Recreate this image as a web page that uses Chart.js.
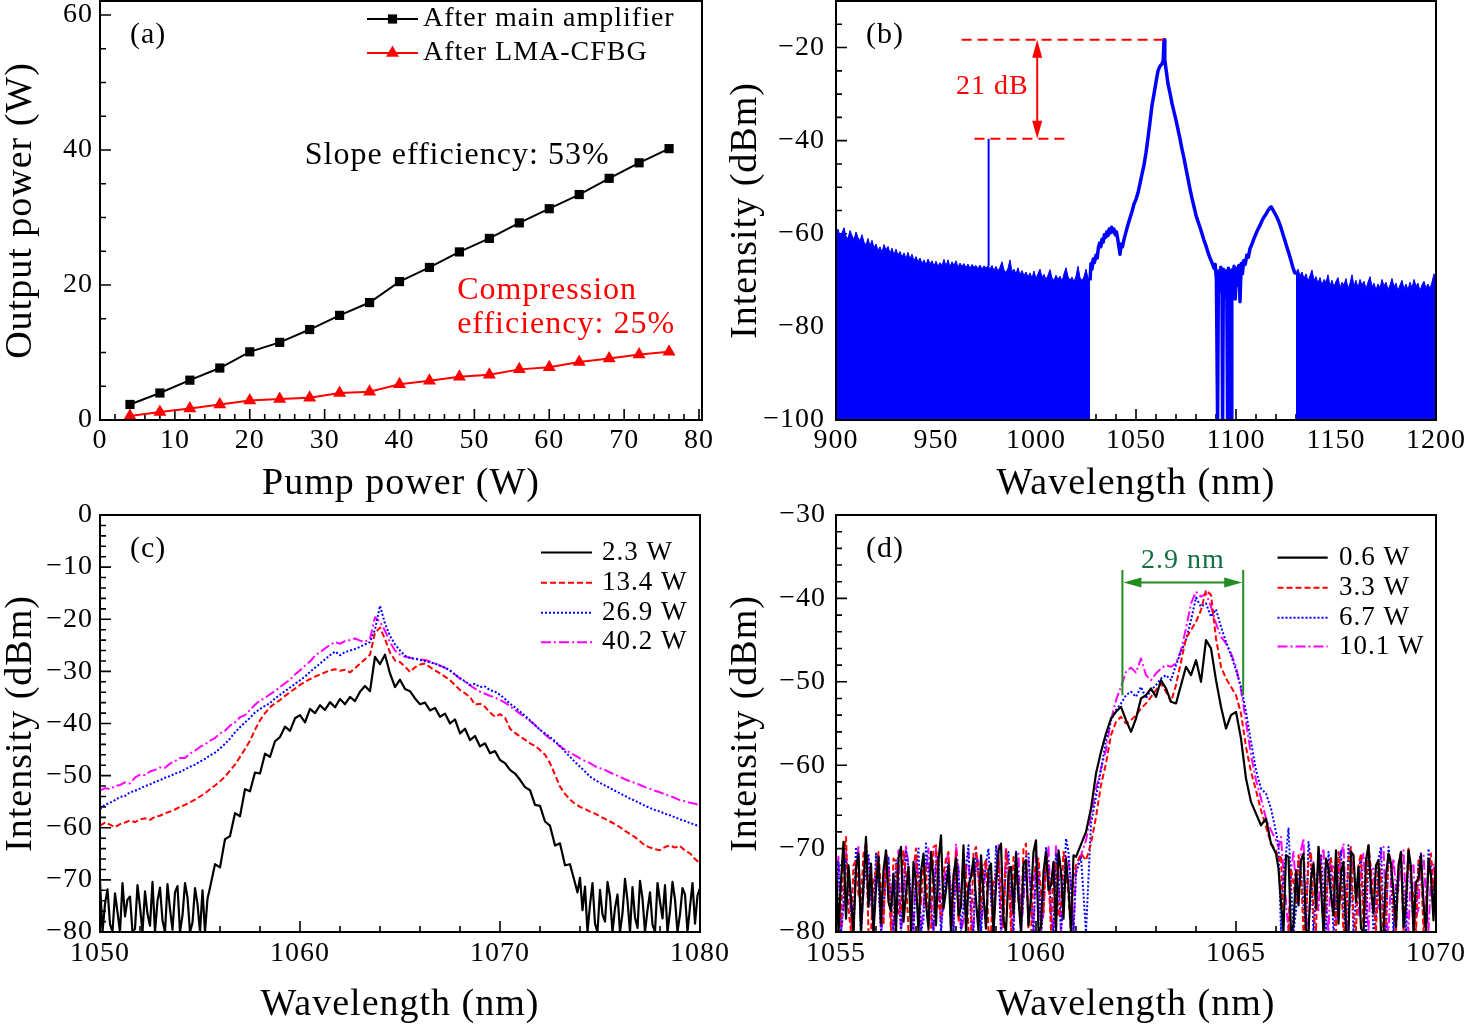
<!DOCTYPE html>
<html><head><meta charset="utf-8">
<script src="https://cdn.jsdelivr.net/npm/chart.js@4.4.1/dist/chart.umd.min.js"></script>
<style>
html,body{margin:0;padding:0;background:#fff;width:1467px;height:1025px;overflow:hidden}
canvas{position:absolute}
</style></head><body>
<canvas id="ca" width="740" height="512" style="left:0;top:0;width:740px;height:512px"></canvas>
<canvas id="cb" width="747" height="512" style="left:720px;top:0;width:747px;height:512px"></canvas>
<canvas id="cc" width="740" height="525" style="left:0;top:500px;width:740px;height:525px"></canvas>
<canvas id="cd" width="747" height="525" style="left:720px;top:500px;width:747px;height:525px"></canvas>
<script>
const FONT = "'Liberation Serif','Times New Roman',serif";
const MINUS = '\u2212';
const RED = '#ff0000', BLUE = '#0000ff', MAGENTA = '#ff00ff', BLACK = '#000000';

function grid(start, step, count) { const out = []; for (let i = 0; i < count; i++) out.push(Math.round((start + i * step) * 10000) / 10000); return out; }
function toPoints(xs, ys) { return ys.map((y, i) => ({ x: xs[i], y: y })); }
function pairPoints(pairs) { return pairs.map(p => ({ x: p[0], y: p[1] })); }

// ---------------- (a) output power ----------------
const pumpPower = [4, 8, 12, 16, 20, 24, 28, 32, 36, 40, 44, 48, 52, 56, 60, 64, 68, 72, 76];
const outputAfterAmplifier = [2.3, 4.0, 5.9, 7.7, 10.1, 11.5, 13.4, 15.5, 17.4, 20.5, 22.6, 24.9, 26.9, 29.2, 31.3, 33.4, 35.8, 38.1, 40.2];
const outputAfterCFBG = [0.6, 1.2, 1.7, 2.3, 2.9, 3.1, 3.3, 4.0, 4.2, 5.3, 5.8, 6.4, 6.7, 7.5, 7.8, 8.6, 9.1, 9.7, 10.1];
const aSeriesNames = ['After main amplifier', 'After LMA-CFBG'];

// ---------------- (b) broad spectrum ----------------
const bLeftWavelength = grid(900, 1, 128);
const bLeftIntensity = [
 -60.2,-59.0,-60.5,-59.8,-58.7,-60.6,-61.0,-59.3,-60.4,-61.3,
 -59.6,-60.8,-61.5,-60.2,-61.8,-62.4,-61.0,-62.6,-61.4,-63.0,
 -62.2,-63.6,-62.8,-64.0,-62.3,-63.5,-62.7,-64.2,-63.1,-64.5,
 -63.3,-64.6,-63.8,-65.0,-64.1,-65.3,-64.0,-65.4,-64.4,-65.8,
 -64.9,-66.0,-65.2,-66.4,-65.6,-66.7,-65.4,-66.5,-65.8,-66.9,
 -65.9,-67.0,-66.2,-66.8,-65.5,-66.9,-65.6,-67.1,-66.0,-66.8,
 -65.8,-67.2,-66.3,-67.0,-66.4,-67.3,-66.5,-67.4,-66.6,-67.2,
 -66.8,-67.5,-66.7,-67.6,-66.9,-67.3,-66.9,-67.5,-66.8,-67.9,
 -67.0,-68.0,-67.2,-66.0,-67.8,-68.3,-67.4,-65.6,-68.1,-67.6,
 -68.6,-67.3,-68.8,-67.9,-69.0,-68.2,-69.3,-68.4,-69.5,-68.0,
 -69.6,-68.6,-67.6,-69.4,-68.7,-69.8,-68.9,-67.7,-69.5,-70.0,
 -68.9,-69.8,-69.1,-70.2,-68.6,-67.3,-69.2,-70.0,-69.3,-70.3,
 -69.1,-67.0,-69.4,-70.1,-69.2,-67.6,-69.5,-70.0];
const bSpikeWavelength = [976.3, 976.3];
const bSpikeIntensity = [-67.0, -39.6];
const bMainSpectrum = [
 [1027.0,-70.0],[1027.5,-66.4],[1028.0,-67.6],[1028.6,-65.4],[1029.2,-66.2],[1030.0,-64.6],[1030.6,-65.2],[1031.2,-63.0],[1031.8,-62.0],[1032.4,-62.8],
 [1033.0,-61.2],[1033.6,-61.8],[1034.2,-60.2],[1034.8,-60.8],[1035.4,-59.6],[1036.0,-60.4],[1036.6,-59.0],[1037.2,-59.8],[1037.8,-58.6],[1038.4,-59.6],
 [1039.0,-59.0],[1039.6,-60.2],[1040.2,-59.6],[1040.8,-61.0],[1041.4,-62.6],[1042.0,-64.4],[1042.6,-62.2],[1043.2,-62.8],[1044.0,-61.2],[1045.0,-59.6],
 [1046.0,-58.0],[1047.0,-56.6],[1048.0,-55.2],[1049.0,-53.6],[1050.0,-52.6],[1051.0,-51.2],[1052.0,-49.2],[1053.0,-47.2],[1054.0,-45.2],[1055.0,-42.6],
 [1056.0,-39.4],[1057.0,-36.0],[1058.0,-32.4],[1059.0,-30.0],[1060.0,-27.4],[1061.0,-25.0],[1062.0,-24.0],[1063.0,-23.5],[1063.6,-22.8],[1064.0,-18.3],
 [1064.4,-22.6],[1065.0,-24.6],[1066.0,-27.8],[1067.0,-29.8],[1068.0,-32.0],[1069.0,-33.8],[1070.0,-35.6],[1071.0,-37.6],[1072.0,-39.6],[1073.0,-41.8],
 [1074.0,-43.8],[1075.0,-46.0],[1076.0,-48.2],[1077.0,-50.4],[1078.0,-52.4],[1079.0,-54.2],[1080.0,-56.0],[1081.0,-57.4],[1082.0,-58.6],[1083.0,-60.0],
 [1084.0,-61.4],[1085.0,-62.6],[1086.0,-64.0],[1087.0,-65.2],[1088.0,-66.2],[1089.0,-67.4],[1089.6,-66.6],[1090.2,-69.8],[1090.8,-100],[1091.2,-68.0],
 [1091.8,-72.4],[1092.4,-67.2],[1093.0,-70.8],[1093.3,-100],[1093.7,-67.6],[1094.3,-73.6],[1094.9,-68.0],[1095.4,-71.2],[1095.8,-100],[1096.2,-67.4],
 [1096.8,-74.8],[1097.2,-68.4],[1097.5,-100],[1097.9,-67.8],[1098.5,-72.6],[1099.0,-67.0],[1099.6,-74.0],[1100.2,-67.4],[1100.8,-71.0],[1101.4,-66.8],
 [1102.0,-74.6],[1102.6,-66.4],[1103.2,-68.6],[1103.8,-65.8],[1104.6,-66.6],[1105.4,-64.6],[1106.2,-65.0],[1107.0,-63.2],[1108.0,-62.2],[1109.0,-61.0],
 [1110.0,-60.0],[1111.0,-59.0],[1112.0,-58.2],[1113.0,-57.2],[1114.0,-56.4],[1115.0,-55.8],[1116.0,-55.0],[1117.0,-54.4],[1117.6,-54.2],[1118.4,-54.8],
 [1119.4,-55.6],[1120.4,-56.4],[1121.4,-57.4],[1122.4,-58.6],[1123.4,-60.0],[1124.4,-61.4],[1125.4,-62.8],[1126.4,-64.2],[1127.4,-65.6],[1128.4,-67.2],
 [1129.4,-68.4],[1130.0,-68.4]];
const bRightWavelength = grid(1130, 1, 71);
const bRightIntensity = [
 -68.4,-67.6,-69.0,-68.2,-69.6,-68.6,-70.2,-69.0,-67.8,-70.0,
 -69.2,-70.6,-69.4,-71.0,-69.8,-70.4,-68.8,-71.2,-70.0,-71.4,
 -70.2,-69.4,-71.6,-70.4,-71.0,-69.6,-71.8,-70.6,-68.8,-71.2,
 -70.0,-71.6,-69.8,-71.0,-70.2,-71.8,-70.4,-69.2,-71.4,-70.6,
 -72.0,-70.8,-71.6,-69.8,-71.2,-70.4,-72.0,-71.0,-69.6,-71.4,
 -70.6,-72.2,-71.0,-70.0,-71.8,-70.8,-72.0,-70.4,-71.6,-69.8,
 -71.2,-70.6,-72.2,-71.0,-70.2,-71.6,-70.8,-71.8,-70.4,-68.6,
 -70.0];

// ---------------- (c) spectra after main amplifier ----------------
const cWavelength = grid(1050, 0.25, 121);
const cBlackWavelength = [...grid(1050, 0.125, 44), ...grid(1055.5, 0.25, 74), ...grid(1073.875, 0.125, 50)];
const cPowerLabels = ['2.3 W', '13.4 W', '26.9 W', '40.2 W'];
const cIntensity2_3 = [
 -70.2,-80,-74.6,-71.8,-78.5,-80,-72.6,-76.2,-80,-70.6,-77.0,
 -73.8,-73.2,-80,-79.4,-71.0,-75.2,-80,-72.2,-76.5,-78.8,-70.4,
 -80,-74.0,-71.5,-77.8,-80,-70.8,-75.6,-79.6,-72.4,-71.2,-80,
 -76.8,-70.6,-73.4,-80,-78.2,-71.6,-74.6,-80,-72.0,-80,-73.6,
 -71.5,-67.0,-67.6,-62.2,-61.6,-57.2,-57.8,-52.6,
 -53.0,-49.4,-49.6,-45.8,-46.4,-43.4,-42.6,-40.6,-41.4,-39.0,
 -38.4,-39.8,-37.2,-38.0,-36.5,-37.4,-35.9,-36.9,-35.3,-36.3,
 -34.9,-35.7,-33.9,-32.8,-33.8,-27.2,-28.6,-26.8,-30.4,-33.0,
 -31.6,-33.4,-33.8,-35.2,-36.3,-36.0,-37.5,-37.0,-38.7,-38.1,
 -40.0,-39.2,-41.9,-41.0,-43.2,-42.4,-44.4,-43.8,-45.7,-45.3,
 -47.0,-47.6,-48.9,-49.6,-50.8,-52.2,-52.8,-55.6,-55.8,-58.8,
 -59.6,-63.4,-63.0,-67.2,-67.0,-70.6,
 -72.4,-69.6,-75.8,-71.3,-80,-74.8,-70.6,-78.4,-80,-71.9,
 -76.6,-78.0,-70.4,-73.2,-80,-75.4,-72.8,-80,-76.4,-69.8,
 -74.0,-80,-71.4,-77.2,-79.2,-70.2,-73.6,-80,-75.8,-72.4,
 -78.6,-80,-70.6,-74.2,-77.4,-71.0,-80,-76.0,-70.4,-73.8,
 -80,-76.6,-71.6,-72.8,-80,-75.2,-70.6,-78.4,-73.0,-71.6];
const cIntensity13_4 = [
 -59.6,-59.0,-59.4,-59.9,-59.3,-59.0,-58.6,-58.9,-58.4,-58.2,
 -58.5,-57.9,-57.7,-57.2,-56.9,-56.5,-56.0,-55.6,-55.1,-54.6,
 -54.0,-53.4,-52.6,-51.9,-51.1,-50.2,-49.0,-47.9,-46.4,-44.9,
 -43.3,-41.2,-39.4,-38.0,-36.9,-36.1,-35.5,-34.7,-34.0,-33.3,
 -32.6,-32.0,-31.5,-31.0,-30.6,-30.2,-29.8,-29.6,-29.9,-29.7,
 -30.2,-29.4,-28.5,-27.7,-26.8,-22.6,-21.6,-23.8,-26.4,-27.9,
 -28.2,-29.1,-30.1,-29.2,-28.7,-28.5,-29.2,-29.8,-30.4,-31.0,
 -31.7,-32.6,-33.6,-34.2,-34.9,-36.4,-36.2,-36.8,-37.9,-38.7,
 -38.2,-38.9,-41.0,-41.8,-42.5,-43.1,-43.8,-44.3,-45.1,-46.0,
 -47.6,-49.8,-52.1,-53.5,-54.6,-55.4,-56.0,-56.4,-56.9,-57.3,
 -57.8,-58.3,-58.8,-59.3,-59.9,-60.6,-61.2,-61.8,-62.6,-63.4,
 -63.8,-64.1,-64.3,-63.7,-63.4,-63.8,-63.5,-64.4,-64.9,-66.0,
 -66.8];
const cIntensity26_9 = [
 -56.4,-55.6,-55.2,-54.7,-54.1,-53.9,-53.2,-52.9,-52.5,-52.0,
 -51.7,-51.2,-50.9,-50.4,-50.1,-49.6,-49.3,-48.8,-48.3,-47.9,
 -47.3,-46.8,-46.1,-45.6,-44.8,-43.9,-42.9,-41.7,-40.7,-39.8,
 -38.9,-37.9,-37.2,-36.6,-36.1,-35.2,-34.5,-33.8,-33.1,-32.4,
 -31.7,-31.0,-30.1,-29.3,-28.5,-27.7,-26.9,-26.2,-26.9,-26.3,
 -26.0,-25.7,-25.3,-24.8,-24.4,-22.0,-17.4,-20.8,-23.2,-24.8,
 -26.0,-27.0,-27.4,-27.6,-27.8,-28.0,-28.3,-28.5,-28.9,-29.3,
 -29.8,-30.6,-31.3,-31.9,-32.6,-32.4,-33.0,-32.9,-33.6,-33.9,
 -34.5,-35.3,-36.2,-36.9,-37.7,-38.5,-39.4,-40.3,-41.2,-41.9,
 -42.6,-43.4,-44.3,-45.4,-46.4,-47.4,-48.3,-49.2,-50.2,-50.8,
 -51.4,-51.9,-52.4,-52.9,-53.4,-53.9,-54.4,-54.8,-55.3,-55.8,
 -56.2,-56.6,-56.9,-57.3,-57.6,-58.0,-58.4,-58.7,-59.1,-59.4,
 -59.8];
const cIntensity40_2 = [
 -52.8,-52.4,-52.6,-52.0,-51.8,-51.3,-51.5,-50.4,-49.8,-49.9,
 -49.2,-48.9,-48.4,-48.5,-47.7,-47.2,-46.6,-46.6,-45.8,-45.2,
 -44.5,-44.0,-43.3,-42.8,-41.9,-41.4,-40.4,-39.8,-38.8,-38.4,
 -37.4,-36.4,-35.6,-35.1,-34.4,-33.8,-33.0,-32.3,-31.6,-30.6,
 -29.8,-28.9,-28.1,-27.0,-26.3,-25.6,-24.9,-24.4,-24.7,-24.2,
 -24.0,-23.7,-24.1,-24.3,-23.8,-19.6,-20.5,-22.2,-24.4,-26.0,
 -26.8,-27.2,-27.4,-27.5,-27.7,-27.8,-28.1,-28.5,-28.9,-29.3,
 -29.9,-30.6,-31.4,-32.0,-32.7,-33.3,-33.9,-34.3,-34.7,-35.0,
 -35.5,-36.0,-36.7,-37.4,-38.1,-38.8,-39.5,-40.3,-41.2,-42.1,
 -42.9,-43.6,-44.4,-45.0,-45.6,-46.1,-46.7,-47.2,-47.6,-48.2,
 -48.6,-48.9,-49.4,-49.8,-50.2,-50.7,-51.1,-51.4,-51.8,-52.2,
 -52.5,-52.9,-53.2,-53.6,-53.9,-54.3,-54.7,-54.9,-55.2,-55.4,
 -55.7];

// ---------------- (d) spectra after LMA-CFBG ----------------
const dWavelength = [...grid(1055, 0.0625, 96), ...grid(1061, 0.125, 41), ...grid(1066.0625, 0.0625, 64)];
const dPowerLabels = ['0.6 W', '3.3 W', '6.7 W', '10.1 W'];
const dIntensity0_6 = [
 -71.5,-80,-73.8,-69.2,-78.4,-72.0,-76,-80,-72.4,-70.6,-80,-74.2,
 -68.6,-77.0,-71.8,-80,-74.8,-71.0,-79,-72.6,-70.2,-76.4,-77.5,-73.0,
 -80,-71.2,-69.8,-78.8,-75.4,-72.2,-80,-71.6,-74.0,-80,-72.8,-70.6,
 -76.6,-79.6,-70.4,-73.6,-79.2,-71.4,-68.4,-77.2,-75.0,-72.0,-80,-73.2,
 -71.2,-78.0,-77.0,-69.6,-80,-74.4,-73.4,-71.2,-76.2,-80,-70.8,-75.6,
 -79.6,-72.6,-71.8,-80,-74.6,-70.2,-69.4,-78.6,-80,-73.0,-72.2,-77.8,
 -70.6,-76.0,-80,-71.8,-71.4,-79.2,-75.8,-70.4,-69.0,-80,-79.4,-72.8,
 -70.4,-75.0,-74.4,-71.6,-80,-70.2,-72.8,-78.4,-71.2,-74.6,-80,-70.8,
 -71.0,-69.5,-68.0,-65.2,-61.0,-58.4,-56.2,-54.4,-53.6,-53.0,
 -54.6,-56.0,-54.4,-52.0,-51.6,-50.8,-51.8,-49.8,-50.8,-52.4,
 -52.6,-50.4,-48.2,-49.2,-47.4,-50.0,-45.0,-46.0,-49.8,-53.0,
 -55.6,-54.0,-53.6,-56.8,-61.6,-64.4,-65.8,-67.2,-66.4,-69.4,
 -70.6,
 -72.4,-76.5,-80,-70.8,-71.0,-80,-79.2,-72.6,
 -76.8,-71.4,-70.6,-80,-80,-73.6,-71.8,-77.2,
 -69.8,-74.6,-80,-71.2,-72.4,-75.6,-78.0,-70.2,
 -79.0,-72.8,-71.6,-80,-80,-70.4,-70.8,-76.4,
 -72.2,-79.6,-80,-71.4,-69.6,-74.8,-77.8,-72.0,
 -71.4,-80,-80,-73.2,-70.6,-71.8,-75.2,-79.4,
 -72.0,-70.4,-79.4,-76.6,-70.2,-72.2,-80,-74.0,
 -73.6,-70.8,-76.4,-80,-71.2,-73.4,-78.6,-71.0];
const dIntensity3_3 = [
 -73.0,-80,-78.4,-70.8,-68.6,-77.2,-80,-72.0,-71.4,-75.6,-76.2,-70.6,
 -69.4,-80,-80,-73.8,-72.6,-70.4,-75.0,-79.2,-70.8,-73.4,-80,-71.2,
 -71.6,-77.8,-77.4,-70.2,-73.2,-80,-80,-72.4,-70.0,-74.8,-76.8,-71.6,
 -72.4,-80,-80,-69.8,-69.6,-76.6,-78.0,-73.0,-71.2,-70.4,-80,-75.2,
 -70.4,-78.8,-75.6,-71.0,-72.8,-80,-80,-70.6,-69.8,-73.6,-77.2,-72.2,
 -71.4,-80,-80,-74.0,-73.6,-70.8,-76.0,-79.4,-70.2,-72.6,-80,-71.0,
 -71.8,-76.4,-78.6,-70.0,-69.4,-80,-80,-73.2,-72.0,-71.2,-75.4,-77.6,
 -70.6,-73.0,-80,-71.8,-71.6,-78.2,-77.0,-70.4,-72.4,-75.8,-80,-73.4,
 -72.0,-70.6,-71.4,-69.4,-66.2,-62.4,-59.8,-56.4,-54.8,-54.2,
 -55.0,-54.6,-54.0,-53.2,-52.6,-51.8,-51.0,-50.2,-51.2,-52.4,
 -50.4,-47.6,-44.8,-43.8,-42.8,-41.4,-39.0,-39.6,-44.8,-48.2,
 -49.6,-50.6,-51.6,-53.8,-57.8,-60.8,-63.0,-65.4,-67.4,-69.4,
 -70.2,
 -71.4,-70.8,-80,-80,-80,-72.4,-74.2,-76.6,
 -70.8,-73.0,-80,-78.2,-71.6,-70.4,-77.8,-80,
 -69.8,-72.6,-80,-76.4,-72.8,-71.0,-75.2,-80,
 -70.4,-73.2,-80,-78.8,-71.2,-69.8,-78.2,-80,
 -72.0,-70.6,-80,-76.2,-69.6,-72.6,-76.4,-80,
 -71.8,-73.4,-80,-79.0,-70.6,-71.4,-77.6,-80,
 -72.6,-70.2,-80,-75.4,-70.0,-73.6,-75.8,-80,
 -71.4,-72.0,-80,-77.2,-72.2,-70.6,-74.8,-72.2];
const dIntensity6_7 = [
 -75.0,-71.6,-80,-76.4,-71.2,-73.0,-77.6,-80,-69.8,-72.2,-80,-74.8,
 -72.4,-70.6,-75.6,-80,-70.6,-74.0,-80,-77.2,-73.0,-71.0,-78.2,-80,
 -71.4,-73.8,-80,-75.2,-70.2,-72.4,-76.4,-80,-72.8,-70.0,-80,-78.6,
 -69.4,-73.2,-77.0,-80,-71.6,-70.8,-80,-75.8,-73.4,-71.4,-75.2,-80,
 -70.8,-72.6,-80,-76.8,-72.0,-69.6,-78.8,-80,-70.4,-73.0,-80,-74.4,
 -71.8,-70.0,-76.2,-80,-69.6,-72.8,-80,-77.0,-72.6,-70.4,-77.4,-80,
 -70.2,-73.6,-80,-75.4,-71.0,-70.6,-75.8,-80,-72.2,-71.8,-80,-76.6,
 -69.8,-72.2,-78.4,-80,-70.6,-73.6,-80,-76.0,-68.8,-70.4,-74.6,-80,
 -73.0,-71.0,-80,-67.0,-63.8,-60.6,-57.0,-54.6,-53.4,-52.6,
 -51.6,-51.2,-51.8,-50.6,-52.0,-51.0,-50.4,-49.6,-49.2,-49.8,
 -48.0,-46.4,-45.0,-42.6,-39.9,-41.0,-40.6,-42.2,-41.3,-43.4,
 -45.2,-46.8,-48.6,-50.6,-53.6,-57.2,-60.6,-62.8,-63.4,-65.2,
 -68.0,
 -69.6,-80,-72.8,-70.6,-67.6,-74.2,-80,-77.4,
 -71.4,-72.6,-76.8,-80,-69.2,-71.8,-80,-75.6,
 -72.2,-70.6,-75.4,-80,-70.4,-73.6,-80,-77.0,
 -71.8,-70.2,-77.6,-80,-69.6,-72.4,-80,-76.2,
 -72.4,-71.2,-76.0,-80,-70.8,-73.8,-80,-78.4,
 -71.2,-69.8,-78.4,-80,-69.8,-72.6,-80,-75.0,
 -72.6,-71.4,-75.2,-80,-70.2,-73.0,-80,-77.6,
 -71.6,-70.6,-77.0,-80,-70.0,-72.4,-76.2,-73.4];
const dIntensity10_1 = [
 -74.2,-70.8,-80,-77.4,-70.4,-72.6,-78.0,-80,-72.0,-69.8,-80,-75.2,
 -69.2,-71.4,-76.4,-80,-71.8,-73.6,-80,-78.2,-70.6,-71.2,-77.2,-80,
 -73.4,-70.2,-80,-76.6,-69.6,-72.0,-75.8,-80,-71.2,-73.8,-80,-77.0,
 -72.6,-70.0,-78.4,-80,-70.0,-71.8,-80,-75.4,-71.6,-70.6,-76.0,-80,
 -69.4,-72.4,-80,-78.6,-72.8,-70.4,-77.6,-80,-70.8,-71.6,-80,-75.6,
 -71.4,-73.2,-75.4,-80,-73.0,-69.6,-80,-77.2,-69.8,-72.2,-78.2,-80,
 -71.0,-70.6,-80,-76.2,-72.2,-71.4,-76.6,-80,-70.2,-73.0,-80,-77.8,
 -71.6,-69.8,-77.8,-80,-69.6,-72.6,-80,-75.0,-70.8,-71.4,-74.8,-80,
 -72.5,-70.8,-69.0,-66.0,-62.8,-60.4,-58.2,-54.6,-52.2,-50.6,
 -48.8,-48.3,-48.9,-47.2,-49.2,-49.8,-49.0,-48.4,-48.0,-48.2,
 -47.8,-46.2,-43.6,-40.6,-39.2,-39.8,-39.4,-41.0,-43.0,-44.6,
 -45.4,-46.6,-48.2,-51.0,-54.8,-58.8,-61.8,-64.0,-66.4,-67.8,
 -69.0,
 -69.8,-68.6,-72.8,-76.4,-80,-72.6,-70.4,-74.8,
 -76.2,-70.2,-68.8,-78.0,-80,-73.4,-71.6,-75.6,
 -77.4,-71.2,-70.0,-76.6,-80,-72.0,-72.2,-78.6,
 -75.6,-70.8,-69.4,-77.2,-80,-73.0,-71.0,-76.4,
 -78.0,-71.6,-70.6,-75.8,-80,-72.6,-72.4,-77.8,
 -76.8,-70.4,-69.8,-78.4,-80,-73.6,-71.2,-75.0,
 -75.0,-71.0,-70.2,-77.0,-80,-72.2,-72.0,-78.2,
 -77.2,-70.6,-70.6,-76.0,-80,-73.2,-71.8,-74.6];
const dBandwidthEdges = [1062.16, 1065.18];

// ---------------- helpers ----------------
function tickFormat(major) {
  return v => { const r = v / major; if (Math.abs(r - Math.round(r)) > 1e-6) return ''; const n = Math.round(v); return n < 0 ? MINUS + (-n) : String(n); };
}
function axisX(min, max, minor, major, title, h, tickPad, titlePad) {
  return { type: 'linear', position: 'bottom', min, max,
    grid: { display: false, drawTicks: false }, border: { display: false },
    ticks: { stepSize: minor, autoSkip: false, maxRotation: 0, minRotation: 0, includeBounds: false, padding: tickPad, color: '#000', font: { family: FONT, size: 28 }, callback: tickFormat(major) },
    title: { display: true, text: title, color: '#000', font: { family: FONT, size: 38, lineHeight: 1 }, padding: { top: 0, bottom: titlePad } },
    afterFit(s) { s.height = h; s.paddingLeft = 0; s.paddingRight = 0; s.paddingTop = 0; s.paddingBottom = 0; } };
}
function axisY(min, max, minor, major, title, w, tickPad, titlePad) {
  return { type: 'linear', position: 'left', min, max,
    grid: { display: false, drawTicks: false }, border: { display: false },
    ticks: { stepSize: minor, autoSkip: false, includeBounds: false, padding: tickPad, color: '#000', font: { family: FONT, size: 28 }, callback: tickFormat(major) },
    title: { display: true, text: title, color: '#000', font: { family: FONT, size: 38, lineHeight: 1 }, padding: { top: titlePad, bottom: 0 } },
    afterFit(s) { s.width = w; s.paddingLeft = 0; s.paddingRight = 0; s.paddingTop = 0; s.paddingBottom = 0; } };
}

const DECOR = {};
function markTicks(scale, t, fn) {
  const k0 = Math.ceil(scale.min / t[0] - 1e-6), k1 = Math.floor(scale.max / t[0] + 1e-6);
  for (let k = k0; k <= k1; k++) {
    const v = k * t[0]; const r = v / t[1];
    fn(scale.getPixelForValue(v), Math.abs(r - Math.round(r)) < 1e-6 ? 11 : 6);
  }
}
function drawMarker(ctx, style, r, x, y, color) {
  ctx.fillStyle = color; ctx.beginPath();
  if (style === 'rect') { const s = r * Math.SQRT1_2; ctx.rect(x - s, y - s, 2 * s, 2 * s); }
  else if (style === 'triangle') { const sx = r * Math.sin(Math.PI / 3); ctx.moveTo(x, y - r); ctx.lineTo(x + sx, y + r / 2); ctx.lineTo(x - sx, y + r / 2); ctx.closePath(); }
  ctx.fill();
}
function arrowHead(ctx, x, y, dx, dy, len, half) {
  const bx = x - dx * len, by = y - dy * len;
  ctx.beginPath(); ctx.moveTo(x, y); ctx.lineTo(bx - dy * half, by + dx * half); ctx.lineTo(bx + dy * half, by - dx * half); ctx.closePath(); ctx.fill();
}
function text(ctx, str, x, y, size, color, align) {
  ctx.font = size + 'px ' + FONT; ctx.fillStyle = color; ctx.textAlign = align || 'left'; ctx.textBaseline = 'middle'; ctx.fillText(str, x, y);
}

const decorPlugin = {
  id: 'decor',
  beforeUpdate(chart) { chart.ctx.letterSpacing = '1px'; },
  beforeDraw(chart) { chart.ctx.letterSpacing = '1px'; },
  beforeDatasetsDraw(chart) {
    const d = DECOR[chart.canvas.id]; if (!d) return;
    const ctx = chart.ctx, a = chart.chartArea;
    ctx.save(); ctx.strokeStyle = '#000'; ctx.lineWidth = 1.6; ctx.beginPath();
    markTicks(chart.scales.x, d.xt, (p, len) => { ctx.moveTo(p, a.bottom); ctx.lineTo(p, a.bottom - len); });
    markTicks(chart.scales.y, d.yt, (p, len) => { ctx.moveTo(a.left, p); ctx.lineTo(a.left + len, p); });
    ctx.stroke(); ctx.restore();
  },
  afterDatasetsDraw(chart) {
    const d = DECOR[chart.canvas.id]; if (!d) return;
    const ctx = chart.ctx, a = chart.chartArea;
    ctx.save();
    ctx.strokeStyle = '#000'; ctx.lineWidth = 2; ctx.setLineDash([]);
    ctx.strokeRect(a.left, a.top, a.right - a.left, a.bottom - a.top);
    text(ctx, d.tag, a.left + 30, a.top + 34, 30, '#000');
    if (d.legend) {
      const L = d.legend;
      L.rows.forEach((ry, i) => {
        const ds = chart.data.datasets[i]; const y = a.top + ry;
        ctx.strokeStyle = ds.borderColor; ctx.lineWidth = ds.borderWidth; ctx.setLineDash(ds.borderDash || []);
        ctx.beginPath(); ctx.moveTo(a.left + L.x0, y); ctx.lineTo(a.left + L.x1, y); ctx.stroke(); ctx.setLineDash([]);
        if (ds.pointStyle && ds.pointRadius) drawMarker(ctx, ds.pointStyle, ds.pointRadius, a.left + (L.x0 + L.x1) / 2, y, ds.borderColor);
        text(ctx, ds.label, a.left + L.tx, y, L.size, '#000');
      });
    }
    if (d.extra) d.extra(chart, ctx);
    ctx.restore();
  }
};
Chart.register(decorPlugin);

function makeChart(id, datasets, scales, pad) {
  return new Chart(document.getElementById(id), {
    type: 'line',
    data: { datasets },
    options: {
      responsive: false, animation: false, devicePixelRatio: 1, events: [],
      layout: { padding: pad, autoPadding: false },
      plugins: { legend: { display: false }, tooltip: { enabled: false } },
      elements: { point: { radius: 0 }, line: { tension: 0 } },
      scales
    }
  });
}
function specLine(label, data, color, width, dash) {
  return { label, data, borderColor: color, backgroundColor: color, borderWidth: width, borderDash: dash, pointRadius: 0, fill: false, borderJoinStyle: 'round' };
}

// ---------- panel (a) ----------
DECOR.ca = {
  xt: [2, 10], yt: [5, 20], tag: '(a)',
  legend: { x0: 267, x1: 318, tx: 323, rows: [18, 52], size: 28 },
  extra(chart, ctx) {
    const x = chart.scales.x, y = chart.scales.y;
    text(ctx, 'Slope efficiency: 53%', x.getPixelForValue(27.35), y.getPixelForValue(39.2), 32, '#000');
    text(ctx, 'Compression', x.getPixelForValue(47.7), y.getPixelForValue(19.2), 32, RED);
    text(ctx, 'efficiency: 25%', x.getPixelForValue(47.7), y.getPixelForValue(14.1), 32, RED);
  }
};
makeChart('ca', [
  { label: aSeriesNames[0], data: toPoints(pumpPower, outputAfterAmplifier), borderColor: BLACK, backgroundColor: BLACK, borderWidth: 2, pointStyle: 'rect', pointRadius: 6.5, pointBackgroundColor: BLACK, pointBorderWidth: 0 },
  { label: aSeriesNames[1], data: toPoints(pumpPower, outputAfterCFBG), borderColor: RED, backgroundColor: RED, borderWidth: 2, pointStyle: 'triangle', pointRadius: 7.5, pointBackgroundColor: RED, pointBorderWidth: 0 }
], {
  x: axisX(0, 80.4, 2, 10, 'Pump power (W)', 92, 4, 9),
  y: axisY(0, 62.07, 5, 20, 'Output power (W)', 100, 7, 2)
}, { left: 0, top: 1, right: 38, bottom: 0 });

// ---------- panel (b) ----------
DECOR.cb = {
  xt: [10, 50], yt: [5, 20], tag: '(b)',
  extra(chart, ctx) {
    const x = chart.scales.x, y = chart.scales.y;
    const peak = Math.max(...bMainSpectrum.map(p => p[1]));
    const side = bSpikeIntensity[1];
    const yp = y.getPixelForValue(peak), ys = y.getPixelForValue(side);
    ctx.strokeStyle = RED; ctx.fillStyle = RED; ctx.lineWidth = 2; ctx.setLineDash([10, 6]);
    ctx.beginPath();
    ctx.moveTo(x.getPixelForValue(962.8), yp); ctx.lineTo(x.getPixelForValue(1066.7), yp);
    ctx.moveTo(x.getPixelForValue(969.2), ys); ctx.lineTo(x.getPixelForValue(1016.7), ys);
    ctx.stroke(); ctx.setLineDash([]);
    const xa = x.getPixelForValue(1000.6);
    ctx.beginPath(); ctx.moveTo(xa, yp + 10); ctx.lineTo(xa, ys - 10); ctx.stroke();
    arrowHead(ctx, xa, yp, 0, -1, 18, 5); arrowHead(ctx, xa, ys, 0, 1, 18, 5);
    text(ctx, '21 dB', x.getPixelForValue(978.2), y.getPixelForValue(-28.5), 28, RED, 'center');
  }
};
makeChart('cb', [
  { label: 'noise floor 900-1027 nm', data: toPoints(bLeftWavelength, bLeftIntensity), borderColor: BLUE, backgroundColor: BLUE, borderWidth: 1, pointRadius: 0, fill: 'start' },
  { label: 'noise floor 1130-1200 nm', data: toPoints(bRightWavelength, bRightIntensity), borderColor: BLUE, backgroundColor: BLUE, borderWidth: 1, pointRadius: 0, fill: 'start' },
  specLine('976 nm residual', toPoints(bSpikeWavelength, bSpikeIntensity), BLUE, 2, []),
  specLine('spectrum', pairPoints(bMainSpectrum), BLUE, 3.5, [])
], {
  x: axisX(900, 1200, 10, 50, 'Wavelength (nm)', 92, 4, 9),
  y: axisY(-100, -10, 5, 20, 'Intensity (dBm)', 116, 11, 7)
}, { left: 0, top: 1, right: 31, bottom: 0 });

// ---------- panel (c) ----------
DECOR.cc = {
  xt: [2, 10], yt: [2, 10], tag: '(c)',
  legend: { x0: 441, x1: 492, tx: 502, rows: [37.5, 67.7, 97.8, 127.3], size: 27 }
};
makeChart('cc', [
  specLine(cPowerLabels[0], toPoints(cBlackWavelength, cIntensity2_3), BLACK, 2.2, []),
  specLine(cPowerLabels[1], toPoints(cWavelength, cIntensity13_4), RED, 2, [6, 3]),
  specLine(cPowerLabels[2], toPoints(cWavelength, cIntensity26_9), BLUE, 2, [2, 2]),
  specLine(cPowerLabels[3], toPoints(cWavelength, cIntensity40_2), MAGENTA, 2, [10, 3, 2, 3])
], {
  x: axisX(1050, 1080, 2, 10, 'Wavelength (nm)', 93, 5, 1),
  y: axisY(-80, 0, 2, 10, 'Intensity (dBm)', 100, 7, 2)
}, { left: 0, top: 15, right: 40, bottom: 0 });

// ---------- panel (d) ----------
DECOR.cd = {
  xt: [1, 5], yt: [2, 10], tag: '(d)',
  legend: { x0: 441.5, x1: 491.7, tx: 503, rows: [42.6, 72.7, 102.8, 131.6], size: 27 },
  extra(chart, ctx) {
    const x = chart.scales.x, y = chart.scales.y;
    const GREEN = '#228b22';
    const xl = x.getPixelForValue(dBandwidthEdges[0]), xr = x.getPixelForValue(dBandwidthEdges[1]);
    const yTop = y.getPixelForValue(-36.6), yBot = y.getPixelForValue(-51.6), yArr = y.getPixelForValue(-38.1);
    ctx.strokeStyle = GREEN; ctx.fillStyle = GREEN; ctx.lineWidth = 2; ctx.setLineDash([]);
    ctx.beginPath();
    ctx.moveTo(xl, yTop); ctx.lineTo(xl, yBot);
    ctx.moveTo(xr, yTop); ctx.lineTo(xr, yBot);
    ctx.moveTo(xl + 10, yArr); ctx.lineTo(xr - 10, yArr);
    ctx.stroke();
    arrowHead(ctx, xl + 1, yArr, -1, 0, 18, 5); arrowHead(ctx, xr - 1, yArr, 1, 0, 18, 5);
    text(ctx, '2.9 nm', (xl + xr) / 2, y.getPixelForValue(-35.5), 28, '#137040', 'center');
  }
};
makeChart('cd', [
  specLine(dPowerLabels[0], toPoints(dWavelength, dIntensity0_6), BLACK, 2.2, []),
  specLine(dPowerLabels[1], toPoints(dWavelength, dIntensity3_3), RED, 2, [6, 3]),
  specLine(dPowerLabels[2], toPoints(dWavelength, dIntensity6_7), BLUE, 2, [2, 2]),
  specLine(dPowerLabels[3], toPoints(dWavelength, dIntensity10_1), MAGENTA, 2, [10, 3, 2, 3])
], {
  x: axisX(1055, 1070, 1, 5, 'Wavelength (nm)', 93, 5, 1),
  y: axisY(-80, -30, 2, 10, 'Intensity (dBm)', 116, 10, 7)
}, { left: 0, top: 15, right: 31, bottom: 0 });
</script>
</body></html>
